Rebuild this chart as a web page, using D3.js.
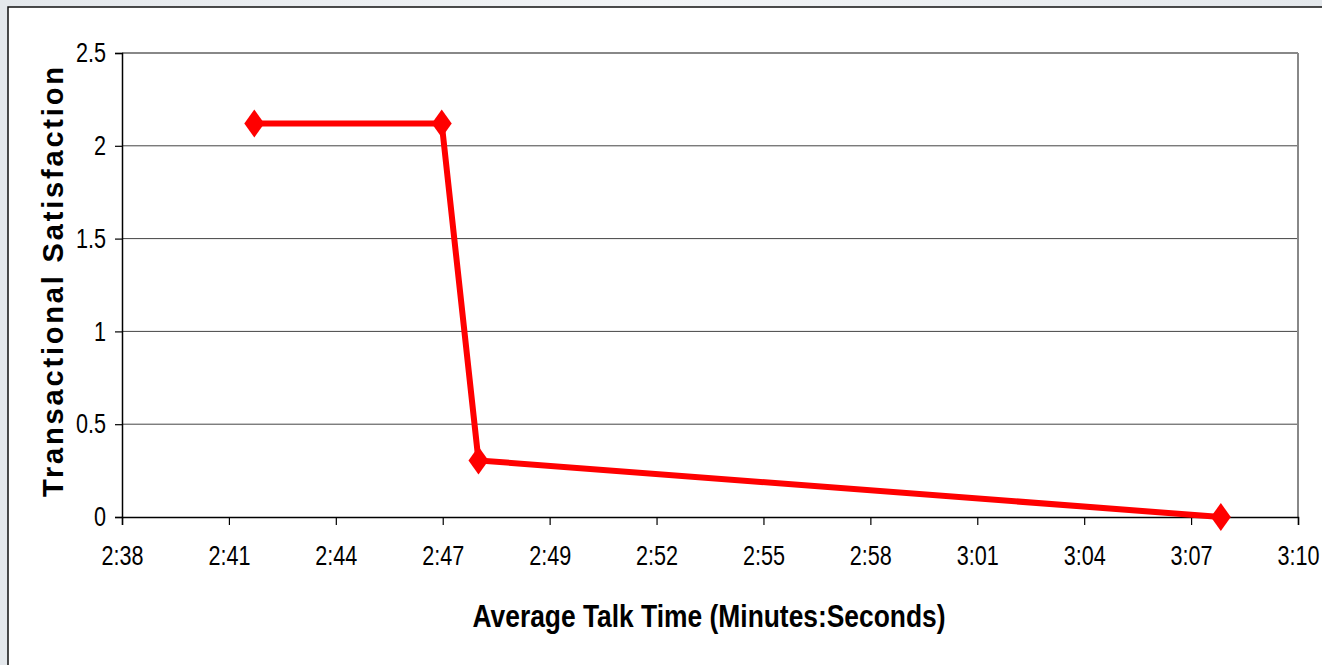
<!DOCTYPE html>
<html><head><meta charset="utf-8">
<script src="https://cdn.jsdelivr.net/npm/d3@7"></script>
<style>
html,body{margin:0;padding:0;background:#e9edf1;}
svg{display:block;}
</style></head>
<body>
<script>
// Data (x in seconds of talk time, y = satisfaction)
const talkTimeSec = [161.6, 166.7, 167.7, 187.9];
const satisfaction = [2.12, 2.12, 0.305, 0];
const xTickLabels = ["2:38","2:41","2:44","2:47","2:49","2:52","2:55","2:58","3:01","3:04","3:07","3:10"];
const yTicks = [0, 0.5, 1, 1.5, 2, 2.5];
const xMin = 158, xMax = 190;

const W = 1322, H = 665;
const svg = d3.select("body").append("svg").attr("width", W).attr("height", H);

const defs = svg.append("defs");
const g1 = defs.append("linearGradient").attr("id","bg").attr("x1","0").attr("x2","1");
g1.append("stop").attr("offset","0").attr("stop-color","#e4e8ec");
g1.append("stop").attr("offset","0.5").attr("stop-color","#f2f4f6");
g1.append("stop").attr("offset","1").attr("stop-color","#e4e8ec");
svg.append("rect").attr("width",W).attr("height",H).attr("fill","url(#bg)");

svg.append("rect").attr("x",8).attr("y",7).attr("width",W).attr("height",H)
  .attr("fill","#fff").attr("stroke","#111").attr("stroke-width",1.5);

const L = 122, R = 1298, T = 53, B = 517;
const x = d3.scaleLinear().domain([xMin, xMax]).range([L, R]);
const y = d3.scaleLinear().domain([0, 2.5]).range([B, T]);

const xTickVals = xTickLabels.map((d,i) => xMin + i*(xMax-xMin)/(xTickLabels.length-1));

svg.append("g").selectAll("line").data(yTicks.filter(d=>d>0 && d<2.5)).join("line")
  .attr("x1",L).attr("x2",R).attr("y1",d=>y(d)).attr("y2",d=>y(d))
  .attr("stroke","#444").attr("stroke-width",1);
svg.append("line").attr("x1",L).attr("x2",R).attr("y1",y(2.5)).attr("y2",y(2.5))
  .attr("stroke","#888").attr("stroke-width",2);
svg.append("line").attr("x1",R).attr("x2",R).attr("y1",T).attr("y2",B)
  .attr("stroke","#888").attr("stroke-width",2);

const fontTick = "'Liberation Sans',Arial,sans-serif";
const sx = 0.8;

// Y axis
const yAxis = d3.axisLeft(y).tickValues(yTicks).tickSize(7).tickPadding(0)
  .tickFormat(d=>String(d));
const ya = svg.append("g").attr("transform",`translate(${L},0)`).call(yAxis);
ya.select(".domain").attr("stroke","#000").attr("stroke-width",1.5);
ya.selectAll(".tick line").attr("stroke","#000").attr("stroke-width",1.2);
ya.selectAll("text").attr("font-family",fontTick).attr("font-size",27).attr("fill","#000")
  .attr("x",-16/sx).attr("transform",`scale(${sx},1)`);

// X axis
const xAxis = d3.axisBottom(x).tickValues(xTickVals).tickSize(8).tickPadding(21)
  .tickFormat((d,i)=>xTickLabels[i]);
const xa = svg.append("g").attr("transform",`translate(0,${B})`).call(xAxis);
xa.select(".domain").attr("stroke","#000").attr("stroke-width",1.5);
xa.selectAll(".tick line").attr("stroke","#000").attr("stroke-width",1.2);
xa.selectAll("text").attr("font-family",fontTick).attr("font-size",27).attr("fill","#000")
  .attr("transform",`scale(${sx},1)`);

// line
const pts = talkTimeSec.map((t,i)=>[t, satisfaction[i]]);
svg.append("path").datum(pts)
  .attr("d", d3.line().x(d=>x(d[0])).y(d=>y(d[1])))
  .attr("fill","none").attr("stroke","#ff0000").attr("stroke-width",6)
  .attr("stroke-linejoin","miter");
svg.append("g").selectAll("path").data(pts).join("path")
  .attr("transform", d=>`translate(${x(d[0])},${y(d[1])})`)
  .attr("d","M0,-14L10,0L0,14L-10,0Z").attr("fill","#ff0000");

// axis titles
svg.append("text").attr("x",709).attr("y",627).attr("text-anchor","middle")
  .attr("font-family",fontTick).attr("font-weight","bold").attr("font-size",32)
  .attr("textLength",473).attr("lengthAdjust","spacingAndGlyphs")
  .text("Average Talk Time (Minutes:Seconds)");
svg.append("text").attr("transform","translate(63,282) rotate(-90)").attr("text-anchor","middle")
  .attr("font-family",fontTick).attr("font-weight","bold").attr("font-size",29)
  .attr("textLength",430).attr("lengthAdjust","spacing")
  .text("Transactional Satisfaction");
</script>
</body></html>
